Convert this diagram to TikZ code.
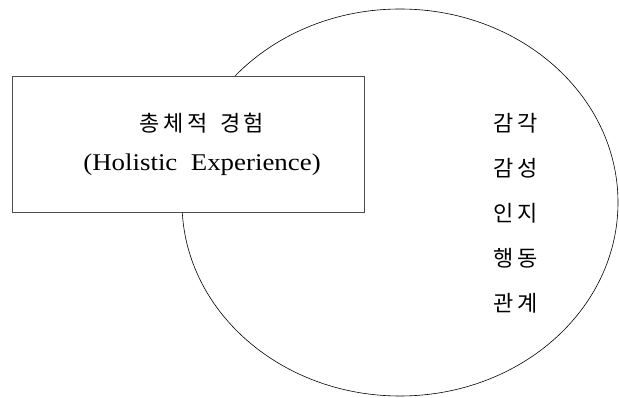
\documentclass[tikz,border=0pt]{standalone}
\usepackage{fontspec}
\setmainfont{Liberation Serif}
\newfontfamily\kofont{Noto Sans CJK KR}
\usetikzlibrary{shapes.geometric}
\tikzset{
  outline/.style={draw=black, line width=0.6pt},
  framebox/.style={draw=black!70, line width=1pt, fill=white, rectangle, minimum width=352pt, minimum height=136pt, inner sep=0pt},
  kolabel/.style={font=\kofont\fontsize{22}{22}\selectfont, inner sep=0pt, anchor=center},
  enlabel/.style={font=\fontsize{24}{24}\selectfont, inner sep=0pt, anchor=center}
}
\begin{document}
\begin{tikzpicture}[x=1pt,y=1pt]
\useasboundingbox (0,0) rectangle (619,397);
\node[outline, ellipse, minimum width=436pt, minimum height=387pt, inner sep=0pt] (circ) at (400,194.5) {};
\node[framebox] (box) at (188,252) {};
\node[kolabel] (t1) at (202,274) {총\,체\,적\, \,경\,험};
\node[enlabel] (t2) at (202,232) {\scalebox{1.12}[1]{(Holistic\ \ Experience)}};
\node[kolabel] (a1) at (516,274) {감\,각};
\node[kolabel] (a2) at (516,229) {감\,성};
\node[kolabel] (a3) at (516,184) {인\,지};
\node[kolabel] (a4) at (516,139) {행\,동};
\node[kolabel] (a5) at (516,94) {관\,계};
\end{tikzpicture}
\end{document}
